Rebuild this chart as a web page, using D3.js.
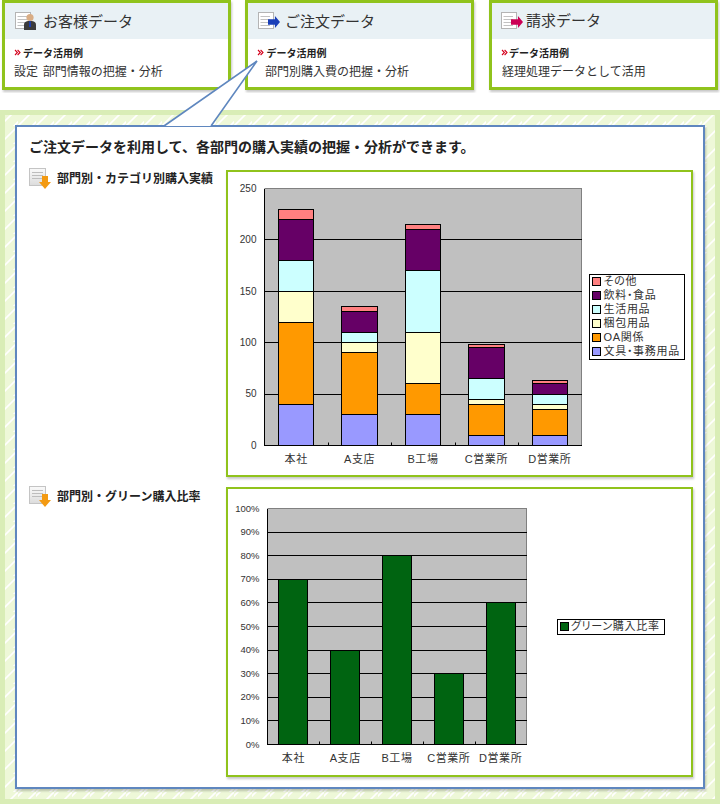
<!DOCTYPE html>
<html lang="ja">
<head>
<meta charset="utf-8">
<title>部門別購入実績</title>
<script src="https://cdnjs.cloudflare.com/ajax/libs/d3/7.8.5/d3.min.js"></script>
<style>
html,body{margin:0;padding:0;background:#fff}
svg{display:block}
text{font-family:"Noto Sans CJK JP","Noto Sans",sans-serif}
.num text,text.num{font-family:"Liberation Sans",Arial,sans-serif}
</style>
</head>
<body>
<svg id="c" width="720" height="804" viewBox="0 0 720 804"></svg>
<script>
// ---- data ----
const departments = ["本社", "A支店", "B工場", "C営業所", "D営業所"];
const stackSeries = ["文具・事務用品", "OA関係", "梱包用品", "生活用品", "飲料・食品", "その他"];
const stationery = [40, 30, 30, 10, 10];
const officeAuto = [80, 60, 30, 30, 25];
const packaging  = [30, 10, 50, 5, 5];
const household  = [30, 10, 60, 20, 10];
const foodDrink  = [40, 20, 40, 30, 10];
const otherGoods = [10, 5, 5, 3, 3];
const stackColors = ["#9999ff", "#ff9900", "#ffffcc", "#ccffff", "#660066", "#ff8080"];
const stackTicks = [0, 50, 100, 150, 200, 250];

const greenName = "グリーン購入比率";
const greenRatio = [70, 40, 80, 30, 60];
const greenTicks = [0, 10, 20, 30, 40, 50, 60, 70, 80, 90, 100];
const greenColor = "#006411";

const cardTitles = ["お客様データ", "ご注文データ", "請求データ"];
const cardLabel = "データ活用例";
const cardTexts = ["設定 部門情報の把握・分析", "部門別購入費の把握・分析", "経理処理データとして活用"];
const headline = "ご注文データを利用して、各部門の購入実績の把握・分析ができます。";
const sectionTitles = ["部門別・カテゴリ別購入実績", "部門別・グリーン購入比率"];

// ---- page furniture ----
const FRAME = "#90c31f", BLUE = "#5f87bf", INK = "#333";
const LATIN_FIRST = '"Liberation Sans","Noto Sans CJK JP",sans-serif';
const svg = d3.select("#c");
const defs = svg.append("defs");
const shadow = defs.append("filter").attr("id", "sh")
  .attr("x", "-5%").attr("y", "-5%").attr("width", "110%").attr("height", "110%");
shadow.append("feDropShadow").attr("dx", 1).attr("dy", 2).attr("stdDeviation", 1.2)
  .attr("flood-color", "#000").attr("flood-opacity", 0.22);
const hatch = defs.append("pattern").attr("id", "hatch").attr("patternUnits", "userSpaceOnUse")
  .attr("width", 18).attr("height", 18);
hatch.append("rect").attr("width", 18).attr("height", 18).attr("fill", "#eef8d8");
hatch.append("path").attr("d", "M-2 6 L6 -2 M0 18 L18 0 M12 20 L20 12")
  .attr("stroke", "#fff").attr("stroke-width", 1.6).attr("fill", "none");
const docGrad = defs.append("linearGradient").attr("id", "docg").attr("x1", 0).attr("y1", 0).attr("x2", 0).attr("y2", 1);
docGrad.append("stop").attr("offset", 0).attr("stop-color", "#fafafa");
docGrad.append("stop").attr("offset", 1).attr("stop-color", "#dcdcdc");

function docIcon(x, y, w, h, fill) {
  const g = svg.append("g");
  g.append("rect").attr("x", x + .5).attr("y", y + .5).attr("width", w).attr("height", h)
    .attr("fill", fill).attr("stroke", "#b4b4b4");
  [4, 7, 10, 13].forEach(dy => g.append("line")
    .attr("x1", x + 2.5).attr("x2", x + w - 3).attr("y1", y + dy + .5).attr("y2", y + dy + .5)
    .attr("stroke", "#c2c2c2"));
}
function sideArrow(x, y, w, h, color) {
  svg.append("path").attr("fill", color)
    .attr("d", `M${x} ${y + h * .27}H${x + w * .58}V${y}L${x + w} ${y + h / 2}L${x + w * .58} ${y + h}V${y + h * .73}H${x}Z`);
}
function chevrons(x, y) {
  [0, 2.6].forEach(d => svg.append("path")
    .attr("d", `M${x + d} ${y - 2.5}L${x + d + 2.4} ${y}L${x + d} ${y + 2.5}`)
    .attr("fill", "none").attr("stroke", "#d4001c").attr("stroke-width", 1.1));
}

// cards
const cardBoxes = [
  { x: 2, w: 229, tx: 43, lx: 23, cx: 15, bx: 14, ty: 20.5 },
  { x: 245, w: 229, tx: 285, lx: 266.5, cx: 258, bx: 265, ty: 20.5 },
  { x: 489, w: 229, tx: 526, lx: 509, cx: 502, bx: 502, ty: 19.5 }
];
cardBoxes.forEach((b, i) => {
  svg.append("rect").attr("x", b.x + 1.5).attr("y", 1.5).attr("width", b.w - 3).attr("height", 87)
    .attr("fill", "#fff").attr("stroke", FRAME).attr("stroke-width", 3).attr("filter", "url(#sh)");
  svg.append("rect").attr("x", b.x + 3).attr("y", 3).attr("width", b.w - 6).attr("height", 36).attr("fill", "#e9f1f5");
  svg.append("text").attr("x", b.tx).attr("y", b.ty).attr("dominant-baseline", "central")
    .attr("font-size", 15).attr("fill", INK).text(cardTitles[i]);
  chevrons(b.cx, 52.5);
  svg.append("text").attr("x", b.lx).attr("y", 52).attr("dominant-baseline", "central")
    .attr("font-size", 10).attr("font-weight", 700).attr("fill", "#222").text(cardLabel);
  svg.append("text").attr("x", b.bx).attr("y", 70.5).attr("dominant-baseline", "central")
    .attr("font-size", 12).attr("word-spacing", 2).attr("fill", INK).text(cardTexts[i]);
});
// card icons
docIcon(15, 12, 15, 16, "#fff");
svg.append("path").attr("fill", "#3b3b3b").attr("d", "M24 30V24.5Q24 21.5 28 21H32Q36 21.5 36 24.5V30Z");
svg.append("circle").attr("cx", 30).attr("cy", 17.5).attr("r", 3.6).attr("fill", "#d9ad85");
svg.append("path").attr("fill", "#1a3fb8").attr("d", "M29.3 21H30.7L31 27H29Z");
docIcon(258, 12, 15, 16, "#fff");
sideArrow(268, 16, 12, 12, "#1a3fb8");
docIcon(501, 12, 15, 16, "#fff");
sideArrow(511, 16, 12, 12, "#cc0055");

// outer band
svg.append("rect").attr("x", 0).attr("y", 110).attr("width", 720).attr("height", 694).attr("fill", "#d9edb6");
svg.append("rect").attr("x", 5).attr("y", 115).attr("width", 710).attr("height", 684).attr("fill", "url(#hatch)");

// blue panel with callout
svg.append("rect").attr("x", 16).attr("y", 126).attr("width", 688).attr("height", 662)
  .attr("fill", "#fff").attr("stroke", BLUE).attr("stroke-width", 2).attr("filter", "url(#sh)");
svg.append("path").attr("d", "M164 126L257 61L211 126Z").attr("fill", "#fff");
svg.append("path").attr("d", "M164 126L257 61L211 126").attr("fill", "none")
  .attr("stroke", BLUE).attr("stroke-width", 1.6).attr("stroke-linejoin", "miter");

svg.append("text").attr("x", 29).attr("y", 145.5).attr("dominant-baseline", "central")
  .attr("font-size", 14).attr("font-weight", 700).attr("fill", "#222").text(headline);

[{ y: 168, ty: 177.5 }, { y: 486, ty: 495.5 }].forEach((s, i) => {
  const g = svg.append("g");
  g.append("rect").attr("x", 29.5).attr("y", s.y + .5).attr("width", 16).attr("height", 17)
    .attr("fill", "url(#docg)").attr("stroke", "#c4c4c4");
  [4, 7, 10].forEach(dy => g.append("line").attr("x1", 32).attr("x2", 43)
    .attr("y1", s.y + dy + .5).attr("y2", s.y + dy + .5).attr("stroke", "#bdbdbd"));
  const ax = 39, ay = s.y + 8;
  svg.append("path").attr("fill", "#f39a12")
    .attr("d", `M${ax + 3} ${ay}H${ax + 9}V${ay + 6}H${ax + 12}L${ax + 6} ${ay + 13}L${ax} ${ay + 6}H${ax + 3}Z`);
  svg.append("text").attr("x", 57).attr("y", s.ty).attr("dominant-baseline", "central")
    .attr("font-size", 12).attr("font-weight", 700).attr("fill", "#222").text(sectionTitles[i]);
});

// chart frames
[{ x: 226, y: 170, w: 467, h: 307 }, { x: 226, y: 487, w: 467, h: 290 }].forEach(f => {
  svg.append("rect").attr("x", f.x + 1).attr("y", f.y + 1).attr("width", f.w - 2).attr("height", f.h - 2)
    .attr("fill", "#fff").attr("stroke", FRAME).attr("stroke-width", 2).attr("filter", "url(#sh)");
});

// ---- chart helper ----
function plotBase(p, ticks, yMax, fmt, padInner, fontSize) {
  const x = d3.scaleBand().domain(departments).range([p.l, p.r]).paddingInner(padInner).paddingOuter(padInner / 2);
  const y = d3.scaleLinear().domain([0, yMax]).range([p.b, p.t]);
  svg.append("rect").attr("x", p.l).attr("y", p.t).attr("width", p.r - p.l).attr("height", p.b - p.t).attr("fill", "#c0c0c0");
  // top and right plot border
  svg.append("path").attr("d", `M${p.l} ${p.t}H${p.r}V${p.b}`).attr("fill", "none").attr("stroke", "#808080");
  const ya = svg.append("g").attr("class", "num").attr("transform", `translate(${p.l},0)`)
    .call(d3.axisLeft(y).offset(0).tickValues(ticks).tickFormat(fmt).tickSize(-(p.r - p.l)).tickPadding(8));
  ya.select(".domain").remove();
  ya.selectAll("line").attr("stroke", "#000").attr("shape-rendering", "crispEdges")
    .filter(d => d === yMax).attr("stroke", "#808080");
  ya.selectAll("text").attr("font-size", fontSize).attr("fill", INK).style("font-family", '"Liberation Sans",sans-serif');
  return { x, y };
}
function plotAxes(p, x) {
  svg.append("path").attr("d", `M${p.l} ${p.t}V${p.b}H${p.r}`).attr("fill", "none").attr("stroke", "#000")
    .attr("shape-rendering", "crispEdges");
  departments.slice(1).forEach(d => {
    const tx = Math.round(x(d) - x.step() * x.paddingInner() / 2) + .5;
    svg.append("line").attr("x1", tx).attr("x2", tx).attr("y1", p.b - 3).attr("y2", p.b).attr("stroke", "#000");
  });
  const xa = svg.append("g").attr("transform", `translate(0,${p.b})`)
    .call(d3.axisBottom(x).tickSize(0).tickPadding(10));
  xa.select(".domain").remove();
  xa.selectAll("text").attr("font-size", 11).attr("fill", INK).attr("letter-spacing", .6)
    .style("font-family", LATIN_FIRST);
}
function legend(box, names, colors, rowH) {
  svg.append("rect").attr("x", box.x + .5).attr("y", box.y + .5).attr("width", box.w).attr("height", box.h)
    .attr("fill", "#fff").attr("stroke", "#000");
  const row = svg.selectAll(null).data(names).enter().append("g")
    .attr("transform", (d, i) => `translate(${box.x},${box.y + 7 + i * rowH})`);
  row.append("rect").attr("x", 3.5).attr("y", -4).attr("width", 7.5).attr("height", 8)
    .attr("fill", (d, i) => colors[i]).attr("stroke", "#000").attr("shape-rendering", "crispEdges");
  row.append("text").attr("x", box.tx).attr("y", 0).attr("dominant-baseline", "central")
    .attr("font-size", 11).attr("letter-spacing", 0.7).style("font-feature-settings", '"palt"')
    .style("font-family", LATIN_FIRST).attr("fill", INK).text(d => d);
}

// ---- stacked chart ----
(function () {
  const p = { l: 264.5, r: 581.5, t: 188.5, b: 445.5 };
  const { x, y } = plotBase(p, stackTicks, 250, d => String(d), 0.44, 10);
  const rows = departments.map((dep, i) => ({
    dep,
    [stackSeries[0]]: stationery[i], [stackSeries[1]]: officeAuto[i], [stackSeries[2]]: packaging[i],
    [stackSeries[3]]: household[i], [stackSeries[4]]: foodDrink[i], [stackSeries[5]]: otherGoods[i]
  }));
  const layers = d3.stack().keys(stackSeries)(rows);
  svg.selectAll(null).data(layers).enter().append("g")
    .attr("fill", (d, i) => stackColors[i])
    .selectAll("rect").data(d => d).enter().append("rect")
    .attr("x", d => x(d.data.dep)).attr("width", x.bandwidth())
    .attr("y", d => y(d[1])).attr("height", d => y(d[0]) - y(d[1]))
    .attr("stroke", "#000").attr("shape-rendering", "crispEdges");
  plotAxes(p, x);
  legend({ x: 589, y: 274, w: 95, h: 85, tx: 14.5 }, stackSeries.slice().reverse(), stackColors.slice().reverse(), 14);
})();

// ---- green ratio chart ----
(function () {
  const p = { l: 267.5, r: 526.5, t: 508.5, b: 744.5 };
  const { x, y } = plotBase(p, greenTicks, 100, d => d + "%", 0.44, 9.5);
  svg.selectAll(null).data(departments).enter().append("rect")
    .attr("x", d => x(d)).attr("width", x.bandwidth())
    .attr("y", (d, i) => y(greenRatio[i])).attr("height", (d, i) => y(0) - y(greenRatio[i]))
    .attr("fill", greenColor).attr("stroke", "#000").attr("shape-rendering", "crispEdges");
  plotAxes(p, x);
  legend({ x: 557, y: 619, w: 107, h: 15, tx: 14 }, [greenName], [greenColor], 14);
})();
</script>
</body>
</html>
